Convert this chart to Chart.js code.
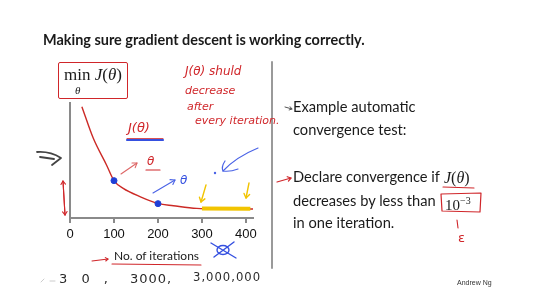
<!DOCTYPE html>
<html>
<head>
<meta charset="utf-8">
<script src="https://cdn.jsdelivr.net/npm/chart.js@4/dist/chart.umd.min.js"></script>
<style>
  html,body{margin:0;padding:0;background:#fff;}
  #wrap{position:relative;width:541px;height:288px;overflow:hidden;background:#fff;}
  #c{position:absolute;left:0;top:0;}
  .t{position:absolute;white-space:nowrap;line-height:1;}
  .slide{font-family:Lato,"Open Sans",sans-serif;color:#1a1a1a;}
  .hand{font-family:"DejaVu Sans",sans-serif;font-style:italic;color:#d0262a;font-size:10px;}
  .bh{font-family:"DejaVu Sans",sans-serif;font-weight:normal;color:#2a2a2a;font-size:13px;letter-spacing:1px;}
  .math{font-family:"Liberation Serif",serif;color:#1a1a1a;}
</style>
</head>
<body>
<div id="wrap">
  <canvas id="c" width="541" height="288"></canvas>

  <div class="t slide" id="title" style="left:43px;top:33px;font-weight:bold;font-size:16px;">Making sure gradient descent is working correctly.</div>

  <!-- min J(theta) box -->
  <div style="position:absolute;left:58px;top:62px;width:68px;height:35px;border:1.5px solid #d0262a;border-radius:2px;"></div>
  <div class="t math" style="left:64px;top:66px;font-size:17px;">min <i>J</i>(<i>θ</i>)</div>
  <div class="t math" style="left:75px;top:85px;font-size:11px;"><i>θ</i></div>

  <!-- handwritten red notes -->
  <div class="t hand" style="left:185px;top:65px;font-size:12px;">J(θ) shuld</div>
  <div class="t hand" style="left:185px;top:85px;font-size:11px;">decrease</div>
  <div class="t hand" style="left:187px;top:101px;font-size:11px;">after</div>
  <div class="t hand" style="left:195px;top:115px;font-size:11px;">every iteration.</div>
  <div class="t hand" style="left:128px;top:121px;font-size:13px;">J(θ)</div>
  <div class="t hand" style="left:147px;top:155px;font-size:12px;">θ</div>
  <div class="t hand" style="left:180px;top:174px;font-size:12px;color:#3550e0;">θ</div>

  <!-- x axis title -->
  <div class="t slide" id="xt" style="left:114px;top:250px;font-size:13px;">No. of iterations</div>

  <!-- bottom handwriting -->
  <div class="t bh" style="left:59px;top:272px;letter-spacing:5px;">3 0 ,</div>
  <div class="t bh" style="left:130px;top:272px;">3000,</div>
  <div class="t bh" id="big" style="left:193px;top:272px;">3,000,000</div>

  <!-- right column -->
  <div class="t slide rt" style="left:293px;top:100px;">Example automatic</div>
  <div class="t slide rt" style="left:293px;top:123px;">convergence test:</div>
  <div class="t slide rt" id="decl" style="left:293px;top:170px;">Declare convergence if</div>
  <div class="t math" style="left:444px;top:170px;font-size:16px;"><i>J</i>(<i>θ</i>)</div>
  <div class="t slide rt" style="left:293px;top:194px;">decreases by less than</div>
  <div class="t math" style="left:445px;top:196px;font-size:15px;">10<sup style="font-size:10px;vertical-align:6px;">−3</sup></div>
  <div class="t slide rt" style="left:293px;top:216px;">in one iteration.</div>
  <div class="t hand" style="left:458px;top:231px;font-size:13px;font-style:normal;">ε</div>

  <div class="t" style="left:457px;top:279px;font-size:7px;font-family:'Liberation Sans',sans-serif;color:#333;">Andrew Ng</div>
</div>

<script>
// ---- data ----
const iterations = [27, 53, 83, 100, 121, 159, 201, 235, 288, 350, 416];
const costJ      = [9.68, 6.93, 4.61, 3.25, 2.58, 1.86, 1.25, 1.07, 0.84, 0.80, 0.78];
const markedIter = [100, 200];
const markedJ    = [3.25, 1.25];
const flatIter   = [300, 410];
const flatJ      = [0.82, 0.80];
const xTicks     = [0, 100, 200, 300, 400];

// fit text widths
function fit(el, target){
  let fs = parseFloat(getComputedStyle(el).fontSize);
  for(let i=0;i<3;i++){
    const w = el.getBoundingClientRect().width;
    fs = fs * target / w;
    el.style.fontSize = fs + 'px';
  }
  return fs;
}
fit(document.getElementById('title'), 322);
const decl = document.getElementById('decl');
decl.style.fontSize = '15px';
const rfs = fit(decl, 147);
document.querySelectorAll('.rt').forEach(e => e.style.fontSize = rfs + 'px');
fit(document.getElementById('xt'), 85);
fit(document.getElementById('big'), 68);

const annotate = {
  id: 'annotate',
  afterDraw(chart){
    const ctx = chart.ctx;
    ctx.save();
    ctx.lineCap = 'round'; ctx.lineJoin = 'round';
    function arrow(pts, color, w, head){
      ctx.strokeStyle = color; ctx.lineWidth = w;
      ctx.beginPath(); ctx.moveTo(pts[0][0], pts[0][1]);
      for(let i=1;i<pts.length;i++) ctx.lineTo(pts[i][0], pts[i][1]);
      ctx.stroke();
      if(head){
        const n = pts.length, a = pts[n-2], b = pts[n-1];
        const ang = Math.atan2(b[1]-a[1], b[0]-a[0]);
        ctx.beginPath();
        ctx.moveTo(b[0]-head*Math.cos(ang-0.6), b[1]-head*Math.sin(ang-0.6));
        ctx.lineTo(b[0], b[1]);
        ctx.lineTo(b[0]-head*Math.cos(ang+0.6), b[1]-head*Math.sin(ang+0.6));
        ctx.stroke();
      }
    }
    const red = '#d0262a', blue = '#4a63e6', yel = '#f2c400';
    // left double arrow (black)
    ctx.strokeStyle = '#444'; ctx.lineWidth = 1.8;
    ctx.beginPath(); ctx.moveTo(37,152); ctx.quadraticCurveTo(50,151,61,158); ctx.lineTo(52,165); ctx.stroke();
    ctx.beginPath(); ctx.moveTo(40,157); ctx.lineTo(54,159); ctx.stroke();
    // red vertical double arrow
    arrow([[63,181],[65,215]], red, 1.1, 4);
    arrow([[65,215],[63,181]], red, 1.1, 4);
    // J(theta) blue underline
    arrow([[127,140],[163,140]], '#3550e0', 2.2, 0);
    arrow([[127,138.5],[163,138.5]], red, 0.8, 0);
    // theta red underline
    arrow([[146,170],[160,170]], red, 1.2, 0);
    // red arrow
    arrow([[121,174],[137,163]], '#d66', 1.1, 5);
    // blue arrow
    arrow([[153,193],[175,180]], blue, 1.1, 5);
    // big blue arrow
    ctx.strokeStyle = blue; ctx.lineWidth = 1.2;
    ctx.beginPath(); ctx.moveTo(258,148); ctx.quadraticCurveTo(236,157,223,171); ctx.stroke();
    ctx.beginPath(); ctx.moveTo(225,161); ctx.quadraticCurveTo(221,167,223,171); ctx.quadraticCurveTo(230,172,238,169); ctx.stroke();
    ctx.fillStyle = blue; ctx.beginPath(); ctx.arc(215,173,1.2,0,Math.PI*2); ctx.fill();
    // yellow arrows
    arrow([[206,185],[201,202]], yel, 1.4, 5);
    arrow([[249,183],[246,198]], yel, 1.4, 5);
    // No. of iterations arrow + underline
    arrow([[92,261],[108,259]], red, 1.1, 3);
    arrow([[112,264],[201,265]], red, 1.1, 0);
    // blue crossed circle
    ctx.strokeStyle = '#3550e0'; ctx.lineWidth = 1.4;
    ctx.beginPath(); ctx.ellipse(223,250,6,4.5,0,0,Math.PI*2); ctx.stroke();
    ctx.beginPath(); ctx.moveTo(211,243); ctx.lineTo(236,258); ctx.moveTo(234,242); ctx.lineTo(214,257); ctx.stroke();
    // faint marks before 30
    ctx.strokeStyle = '#ccc'; ctx.lineWidth = 1;
    ctx.beginPath(); ctx.moveTo(41,282); ctx.lineTo(44,279); ctx.moveTo(50,281); ctx.lineTo(55,281); ctx.stroke();
    // vertical separator
    ctx.strokeStyle = '#9a9a9a'; ctx.lineWidth = 2;
    ctx.beginPath(); ctx.moveTo(272,62); ctx.lineTo(272,268); ctx.stroke();
    // right side arrows
    arrow([[285,107],[292,109]], '#555', 1, 3);
    arrow([[277,182],[291,178]], red, 1.2, 4);
    // red underline J(theta)
    arrow([[443,187],[474,188]], red, 1.1, 0);
    // red box 10^-3
    ctx.strokeStyle = red; ctx.lineWidth = 1.2;
    ctx.beginPath(); ctx.moveTo(441,194); ctx.lineTo(481,193); ctx.lineTo(480,212); ctx.lineTo(442,211); ctx.closePath(); ctx.stroke();
    arrow([[457,220],[458,228]], red, 1.1, 0);
    ctx.restore();
  }
};

new Chart(document.getElementById('c'), {
  type: 'line',
  data: {
    datasets: [
      { label: 'flat', data: flatIter.map((x,i)=>({x, y: flatJ[i]})), borderColor: '#f2c400', borderWidth: 4,
        pointRadius: 0, order: 0 },
      { label: 'marked', data: markedIter.map((x,i)=>({x, y: markedJ[i]})), showLine: false,
        pointRadius: 3, pointBackgroundColor: '#1f3fd6', pointBorderColor: '#1f3fd6', order: 0 },
      { label: 'J', data: iterations.map((x,i)=>({x, y: costJ[i]})), borderColor: '#cc2a26', borderWidth: 1.4,
        pointRadius: 0, cubicInterpolationMode: 'monotone', order: 1 }
    ]
  },
  options: {
    responsive: false,
    animation: false,
    events: [],
    layout: { padding: { left: 70, top: 103, right: 288, bottom: 0 } },
    plugins: { legend: { display: false }, tooltip: { enabled: false } },
    scales: {
      x: {
        type: 'linear', min: 0, max: 416,
        afterFit: s => { s.height = 70; },
        afterBuildTicks: s => { s.ticks = xTicks.map(v => ({ value: v })); },
        ticks: { color: '#111', font: { family: 'Liberation Sans', size: 13 }, padding: 4, maxRotation: 0 },
        grid: { drawOnChartArea: false, drawTicks: true, tickLength: 5, color: '#8a8a8a', lineWidth: 2 },
        border: { color: '#8a8a8a', width: 2 }
      },
      y: {
        type: 'linear', min: 0, max: 10,
        afterFit: s => { s.width = 0; },
        ticks: { display: false },
        grid: { display: false },
        border: { color: '#8a8a8a', width: 2 }
      }
    }
  },
  plugins: [annotate]
});
</script>
</body>
</html>
